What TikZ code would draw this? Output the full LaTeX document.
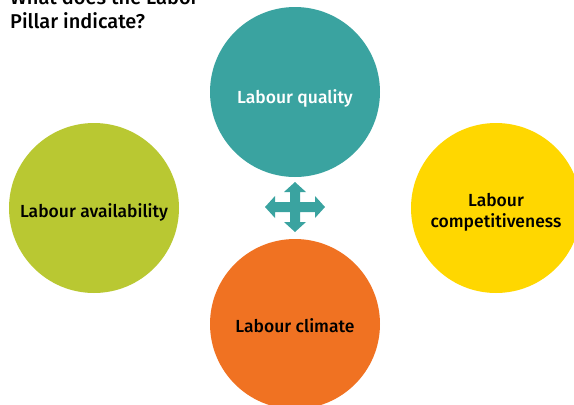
\documentclass[tikz,border=0pt]{standalone}
\usepackage{fontspec}
\setmainfont{Fira Sans Medium}
\definecolor{cteal}{HTML}{3AA3A0}
\definecolor{cgreen}{HTML}{B9C832}
\definecolor{cyellow}{HTML}{FFD700}
\definecolor{corange}{HTML}{F07222}
\begin{document}
\begin{tikzpicture}[x=1pt,y=-1pt,
  pillar/.style={circle,minimum size=170pt,inner sep=0pt},
  plabel/.style={align=center,inner sep=0pt,font=\fontsize{17.5}{21}\selectfont},
]
\useasboundingbox (0,0) rectangle (574,405);
\begin{scope}
\clip (0,0) rectangle (574,405);
\node[pillar,fill=cteal] (quality) at (295,92) {};
\node[pillar,fill=cgreen] (avail) at (94,208) {};
\node[pillar,fill=cyellow] (comp) at (496,208) {};
\node[pillar,fill=corange] (climate) at (295,324) {};
\node[plabel,text=white] (tq) at ([yshift=-6]quality.center) {Labour quality};
\node[plabel] (ta) at ([yshift=-4]avail.center) {Labour availability};
\node[plabel] (tc) at ([yshift=-4]comp.center) {Labour\\competitiveness};
\node[plabel] (tl) at ([yshift=-2]climate.center) {Labour climate};
\node[anchor=base west,align=left,inner sep=0pt,font=\fontsize{20}{24}\selectfont] (title) at (10,28) {What does the Labor\\Pillar indicate?};
\coordinate (cross) at (295,207);
\fill[cteal] ([shift={(-5,-5)}]cross) -- ([shift={(-5,-15)}]cross) -- ([shift={(-11,-15)}]cross) -- ([shift={(0,-25)}]cross)
  -- ([shift={(11,-15)}]cross) -- ([shift={(5,-15)}]cross) -- ([shift={(5,-5)}]cross)
  -- ([shift={(20,-5)}]cross) -- ([shift={(20,-11)}]cross) -- ([shift={(30,0)}]cross) -- ([shift={(20,11)}]cross) -- ([shift={(20,5)}]cross)
  -- ([shift={(5,5)}]cross) -- ([shift={(5,15)}]cross) -- ([shift={(11,15)}]cross) -- ([shift={(0,25)}]cross)
  -- ([shift={(-11,15)}]cross) -- ([shift={(-5,15)}]cross) -- ([shift={(-5,5)}]cross)
  -- ([shift={(-20,5)}]cross) -- ([shift={(-20,11)}]cross) -- ([shift={(-30,0)}]cross) -- ([shift={(-20,-11)}]cross) -- ([shift={(-20,-5)}]cross) -- cycle;
\end{scope}
\end{tikzpicture}
\end{document}
